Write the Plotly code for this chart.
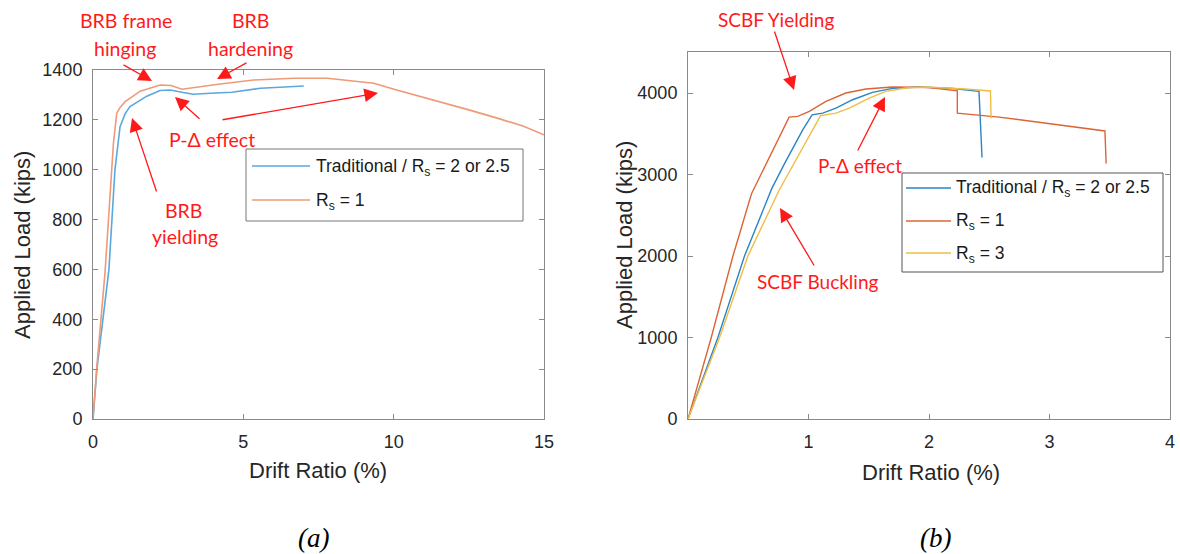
import plotly.graph_objects as go

W, H = 1180, 554

# ---------------- data (a) BRB ----------------
a_drift_trad = [0, 0.13, 0.53, 0.73, 0.9, 1.07, 1.23, 1.79, 2.23, 2.57, 3.0, 3.34, 3.9, 4.62, 5.57, 6.34, 7.01]
a_load_trad = [0, 200, 600, 1000, 1173, 1225, 1253, 1295, 1318, 1320, 1310, 1303, 1307, 1311, 1327, 1331, 1336]
a_drift_rs1 = [0, 0.12, 0.4, 0.6, 0.68, 0.79, 0.9, 1.07, 1.57, 2.23, 2.6, 2.96, 3.6, 4.23, 5.34, 6.68, 7.79,
               9.34, 10.1, 11.5, 12.5, 13.5, 14.3, 15.0]
a_load_rs1 = [0, 200, 588, 960, 1107, 1227, 1250, 1273, 1315, 1340, 1338, 1323, 1335, 1344, 1360, 1367, 1367,
              1347, 1320, 1275, 1240, 1205, 1175, 1140]

# ---------------- data (b) SCBF ----------------
b_drift_trad = [0, 0.248, 0.469, 0.695, 0.80, 0.952, 1.03, 1.118, 1.228, 1.366, 1.531, 1.697, 1.918, 2.2, 2.415, 2.44]
b_load_trad = [0, 1000, 2000, 2827, 3130, 3549, 3733, 3754, 3815, 3918, 4008, 4057, 4074, 4055, 4020, 3210]
b_drift_rs1 = [0, 0.193, 0.373, 0.527, 0.839, 0.91, 1.007, 1.145, 1.31, 1.476, 1.697, 1.86, 2.0, 2.235, 2.235,
               2.58, 3.46, 3.47]
b_load_rs1 = [0, 1000, 2000, 2765, 3704, 3713, 3774, 3897, 4000, 4049, 4074, 4074, 4068, 4028, 3754,
              3705, 3535, 3136]
b_drift_rs3 = [0, 0.262, 0.497, 0.756, 1.10, 1.228, 1.338, 1.504, 1.642, 1.807, 1.973, 2.3, 2.51, 2.515]
b_load_rs3 = [0, 1000, 2000, 2807, 3724, 3754, 3815, 3938, 4021, 4062, 4074, 4050, 4025, 3691]

a_xticks = [0, 5, 10, 15]
a_yticks = [0, 200, 400, 600, 800, 1000, 1200, 1400]
b_xticks = [1, 2, 3, 4]
b_yticks = [0, 1000, 2000, 3000, 4000]

legend_a = ["Traditional / R<sub>s</sub> = 2 or 2.5", "R<sub>s</sub> = 1"]
legend_b = ["Traditional / R<sub>s</sub> = 2 or 2.5", "R<sub>s</sub> = 1", "R<sub>s</sub> = 3"]

# colours
A_BLUE, A_ORANGE = "#5aa8de", "#ee9a78"
B_BLUE, B_ORANGE, B_YELLOW = "#2a84c6", "#dc6435", "#efbd45"
RED = "#ff1a1a"
AXC = "#8a8a8a"
TXT = "#262626"


def px(x):
    return x / W


def py(y):
    return 1 - y / H


fig = go.Figure()
fig.add_trace(go.Scatter(x=a_drift_trad, y=a_load_trad, mode="lines", line=dict(color=A_BLUE, width=1.6),
                         xaxis="x", yaxis="y", showlegend=False))
fig.add_trace(go.Scatter(x=a_drift_rs1, y=a_load_rs1, mode="lines", line=dict(color=A_ORANGE, width=1.6),
                         xaxis="x", yaxis="y", showlegend=False))
fig.add_trace(go.Scatter(x=b_drift_trad, y=b_load_trad, mode="lines", line=dict(color=B_BLUE, width=1.4),
                         xaxis="x2", yaxis="y2", showlegend=False))
fig.add_trace(go.Scatter(x=b_drift_rs1, y=b_load_rs1, mode="lines", line=dict(color=B_ORANGE, width=1.4),
                         xaxis="x2", yaxis="y2", showlegend=False))
fig.add_trace(go.Scatter(x=b_drift_rs3, y=b_load_rs3, mode="lines", line=dict(color=B_YELLOW, width=1.4),
                         xaxis="x2", yaxis="y2", showlegend=False))

axis_common = dict(showline=True, linecolor=AXC, linewidth=1, mirror="ticks", ticks="inside", ticklen=5,
                   tickcolor=AXC, showgrid=False, zeroline=False, automargin=False,
                   tickfont=dict(family="Liberation Sans", size=18, color=TXT))

fig.update_layout(
    template="none",
    width=W, height=H, margin=dict(l=0, r=0, t=0, b=0, autoexpand=False),
    paper_bgcolor="white", plot_bgcolor="white",
    xaxis=dict(domain=[px(93), px(544)], range=[0, 15], tickvals=a_xticks, anchor="y",
               ticklabelstandoff=6, **axis_common),
    yaxis=dict(domain=[py(419), py(70)], range=[0, 1400], tickvals=a_yticks, anchor="x",
               ticklabelstandoff=6, **axis_common),
    xaxis2=dict(domain=[px(688), px(1170)], range=[0, 4], tickvals=b_xticks, anchor="y2",
                ticklabelstandoff=6, **axis_common),
    yaxis2=dict(domain=[py(419), py(52.3)], range=[0, 4500], tickvals=b_yticks, anchor="x2",
                ticklabelstandoff=6, **axis_common),
)

ann = []
shapes = []

# axis titles
TF = dict(family="Liberation Sans", size=22, color=TXT)
ann.append(dict(x=px(318), y=py(470), text="Drift Ratio (%)", showarrow=False, font=TF,
                xanchor="center", yanchor="middle", xref="paper", yref="paper"))
ann.append(dict(x=px(931), y=py(472), text="Drift Ratio (%)", showarrow=False, font=TF,
                xanchor="center", yanchor="middle", xref="paper", yref="paper"))
ann.append(dict(x=px(22), y=py(245), text="Applied Load (kips)", showarrow=False, font=TF, textangle=-90,
                xanchor="center", yanchor="middle", xref="paper", yref="paper"))
ann.append(dict(x=px(624), y=py(235), text="Applied Load (kips)", showarrow=False, font=TF, textangle=-90,
                xanchor="center", yanchor="middle", xref="paper", yref="paper"))

# captions
CF = dict(family="Liberation Serif", size=27, color="black")
ann.append(dict(x=px(313), y=py(538), text="<i>(a)</i>", showarrow=False, font=CF,
                xanchor="center", yanchor="middle", xref="paper", yref="paper"))
ann.append(dict(x=px(935), y=py(538), text="<i>(b)</i>", showarrow=False, font=CF,
                xanchor="center", yanchor="middle", xref="paper", yref="paper"))

# red annotation texts
RF = dict(family="Lato", size=19.5, color=RED)
RF2 = dict(family="Lato", size=19, color=RED)
texts = [
    ("BRB frame", 126, 21, RF), ("hinging", 125, 48, RF),
    ("BRB", 250, 21, RF), ("hardening", 250, 48, RF),
    ("P-Δ effect", 212, 139, RF),
    ("BRB", 183, 210, RF), ("yielding", 185, 237, RF),
    ("SCBF Yielding", 776, 20, RF2),
    ("P-Δ effect", 860, 165, RF2),
    ("SCBF Buckling", 818, 281, RF2),
]
for t, x, y, f in texts:
    ann.append(dict(x=px(x), y=py(y), text=t, showarrow=False, font=f, xanchor="center", yanchor="middle",
                    xref="paper", yref="paper"))

# arrows: (tail_x, tail_y, head_x, head_y)
arrows = [
    (122, 64, 152, 81),
    (248, 62, 217, 79),
    (201, 120, 175, 97),
    (221, 120, 378, 93),
    (157, 193, 132, 118),
    (774, 30, 794, 90),
    (857, 152, 885, 97),
    (815, 267, 780, 208),
]
for tx, ty, hx, hy in arrows:
    ann.append(dict(x=px(hx), y=py(hy), xref="paper", yref="paper", text="", showarrow=True,
                    ax=tx - hx, ay=ty - hy, arrowhead=2, arrowsize=2.1, arrowwidth=1.3,
                    arrowcolor=RED, standoff=0, startstandoff=0))

# legends (drawn manually)
LF = dict(family="Liberation Sans", size=17.5, color="#1a1a1a")
shapes.append(dict(type="rect", xref="paper", yref="paper", x0=px(246), x1=px(523), y0=py(221), y1=py(149),
                   line=dict(color="#777777", width=1), fillcolor="white", layer="above"))
for i, (lab, col) in enumerate(zip(legend_a, [A_BLUE, A_ORANGE])):
    yy = [166, 200][i]
    shapes.append(dict(type="line", xref="paper", yref="paper", x0=px(252), x1=px(310), y0=py(yy), y1=py(yy),
                       line=dict(color=col, width=1.6), layer="above"))
    ann.append(dict(x=px(314), y=py(yy + 1), text=lab, showarrow=False, font=LF, xanchor="left",
                    yanchor="middle", xref="paper", yref="paper"))

shapes.append(dict(type="rect", xref="paper", yref="paper", x0=px(902), x1=px(1163), y0=py(272), y1=py(173),
                   line=dict(color="#555555", width=1), fillcolor="white", layer="above"))
for i, (lab, col) in enumerate(zip(legend_b, [B_BLUE, B_ORANGE, B_YELLOW])):
    yy = [188, 221, 253][i]
    shapes.append(dict(type="line", xref="paper", yref="paper", x0=px(906), x1=px(951), y0=py(yy), y1=py(yy),
                       line=dict(color=col, width=1.4), layer="above"))
    ann.append(dict(x=px(954), y=py(yy + 1), text=lab, showarrow=False, font=LF, xanchor="left",
                    yanchor="middle", xref="paper", yref="paper"))

fig.update_layout(annotations=ann, shapes=shapes)
fig.write_html("out.html")
